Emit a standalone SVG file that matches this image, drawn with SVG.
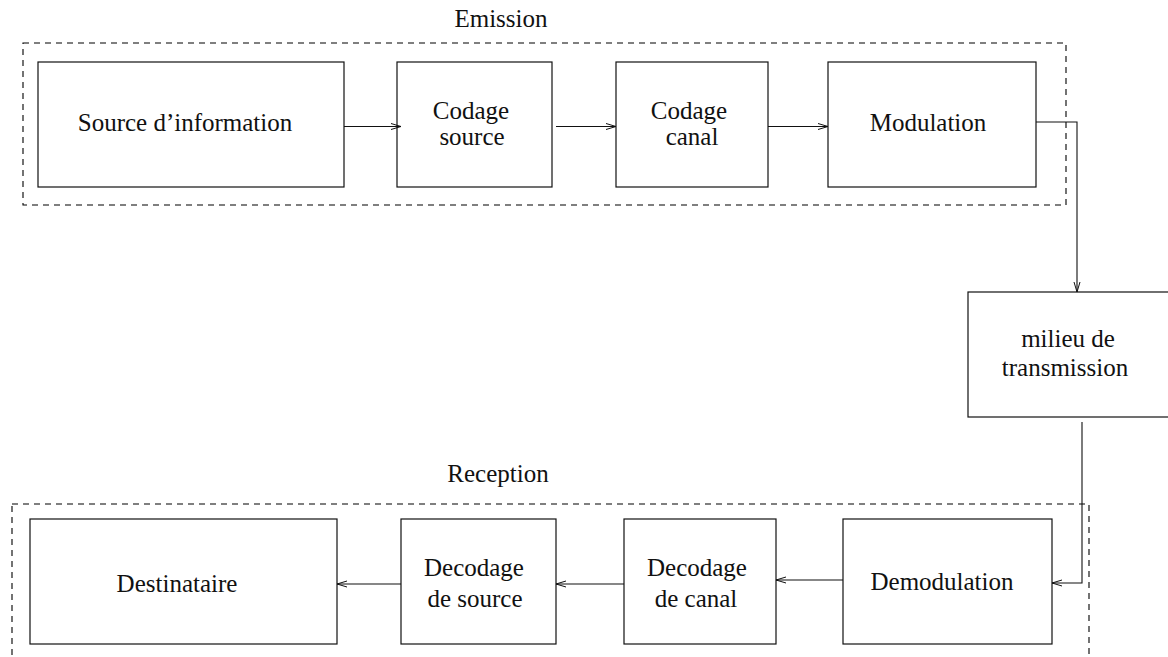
<svg xmlns="http://www.w3.org/2000/svg" width="1168" height="657" viewBox="0 0 1168 657">
<defs>
<style>
.box{fill:#fff;stroke:#111;stroke-width:1.2}
.grp{fill:none;stroke:#000;stroke-width:1.1;stroke-dasharray:6 5}
text{font-family:'Liberation Serif','DejaVu Serif',serif;font-size:25px;fill:#111;text-anchor:middle}
.con{fill:none;stroke:#111;stroke-width:1.1}
</style>
<marker id="arr" viewBox="0 0 10 8" refX="10" refY="4" markerWidth="10" markerHeight="8" markerUnits="userSpaceOnUse" orient="auto">
<path d="M0,1 L10,4 L0,7" fill="none" stroke="#111" stroke-width="1"/>
</marker>
</defs>
<g id="emission-group">
<rect class="grp" x="23" y="43" width="1043" height="162"/>
<text x="501" y="27">Emission</text>
</g>
<g id="reception-group">
<rect class="grp" x="12" y="504" width="1077" height="170"/>
<text x="498" y="482">Reception</text>
</g>
<g id="source">
<rect class="box" x="38" y="62" width="306" height="125"/>
<text x="185" y="131">Source d’information</text>
</g>
<g id="codage-source">
<rect class="box" x="397" y="62" width="155" height="125"/>
<text x="471" y="119">Codage</text>
<text x="472" y="145">source</text>
</g>
<g id="codage-canal">
<rect class="box" x="616" y="62" width="152" height="125"/>
<text x="689" y="119">Codage</text>
<text x="692" y="145">canal</text>
</g>
<g id="modulation">
<rect class="box" x="828" y="62" width="208" height="125"/>
<text x="928" y="131">Modulation</text>
</g>
<g id="milieu">
<rect class="box" x="968" y="292" width="204" height="125"/>
<text x="1068" y="347">milieu de</text>
<text x="1065" y="376">transmission</text>
</g>
<g id="demodulation">
<rect class="box" x="843" y="519" width="209" height="125"/>
<text x="942" y="590">Demodulation</text>
</g>
<g id="decodage-canal">
<rect class="box" x="624" y="519" width="152" height="125"/>
<text x="697" y="576">Decodage</text>
<text x="696" y="607">de canal</text>
</g>
<g id="decodage-source">
<rect class="box" x="401" y="519" width="155" height="125"/>
<text x="474" y="576">Decodage</text>
<text x="475" y="607">de source</text>
</g>
<g id="destinataire">
<rect class="box" x="30" y="519" width="307" height="125"/>
<text x="177" y="592">Destinataire</text>
</g>
<g id="connectors">
<path class="con" d="M344,126.5 H401" marker-end="url(#arr)"/>
<path class="con" d="M556,126.5 H616" marker-end="url(#arr)"/>
<path class="con" d="M768,126.5 H828" marker-end="url(#arr)"/>
<path class="con" d="M1036,122 H1077 V292" marker-end="url(#arr)"/>
<path class="con" d="M1082,422 V583 H1052" marker-end="url(#arr)"/>
<path class="con" d="M843,580 H776" marker-end="url(#arr)"/>
<path class="con" d="M624,584 H556" marker-end="url(#arr)"/>
<path class="con" d="M401,584 H337" marker-end="url(#arr)"/>
</g>
</svg>
